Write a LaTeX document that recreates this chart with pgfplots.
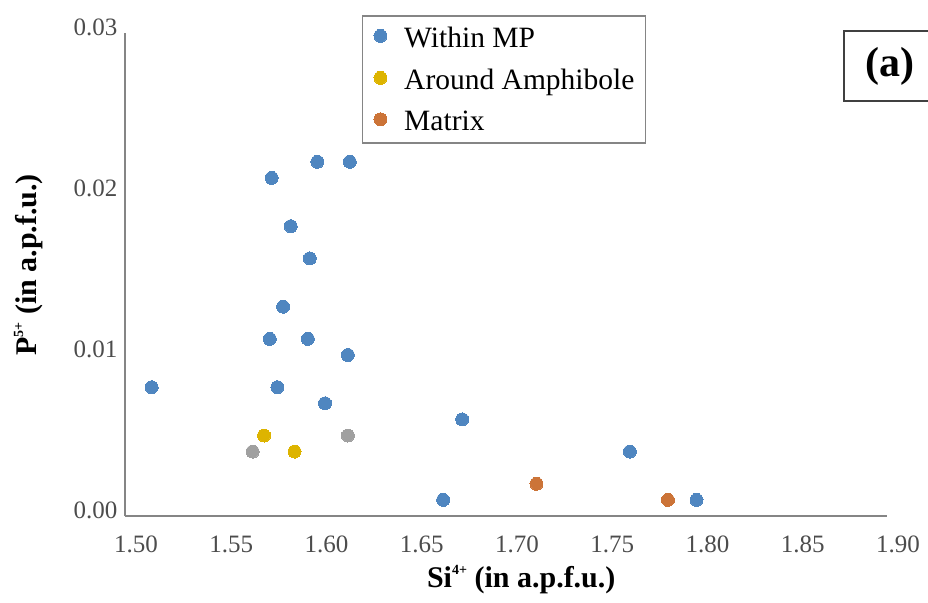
\documentclass[border=0pt]{standalone}
\usepackage{pgfplots}
\pgfplotsset{compat=1.18}
\usepackage{fontspec}
\setmainfont{Liberation Serif}
\definecolor{cblue}{HTML}{4F86C0}
\definecolor{cyellow}{HTML}{DDB400}
\definecolor{corange}{HTML}{CC7438}
\definecolor{cgray}{HTML}{A0A0A0}
\definecolor{axgray}{HTML}{858585}
\newcommand{\sups}[1]{\raisebox{13pt}{\fontsize{14}{14}\selectfont #1}}
\begin{document}
\begin{tikzpicture}
\path[use as bounding box] (-125pt,-86pt) rectangle (803pt,516pt);
\begin{axis}[
  at={(0pt,0pt)}, anchor=origin,
  scale only axis,
  width=762pt, height=483pt,
  xmin=1.50, xmax=1.90, ymin=0, ymax=0.03,
  axis lines*=left,
  axis line style={axgray, line width=2pt},
  xtick={1.50,1.55,...,1.90},
  ytick={0,0.01,0.02,0.03},
  major tick length=0pt,
  /pgf/number format/assume math mode=true,
  xticklabel style={/pgf/number format/.cd,fixed,fixed zerofill,precision=2,/tikz/.cd, font=\fontsize{25}{28}\selectfont, text=black!70, xshift=11pt, yshift=-16pt},
  yticklabel style={/pgf/number format/.cd,fixed,fixed zerofill,precision=2,/tikz/.cd, font=\fontsize{25}{28}\selectfont, text=black!70, yshift=6pt, xshift=-4pt},
  scaled y ticks=false,
  xlabel={\textbf{Si\sups{\textbf{4+}} (in a.p.f.u.)}},
  ylabel={\textbf{P\sups{\textbf{5+}} (in a.p.f.u.)}},
  xlabel style={font=\fontsize{30}{34}\selectfont, at={(axis description cs:0.52,-0.1325)}, anchor=center},
  ylabel style={font=\fontsize{30}{34}\selectfont, at={(axis description cs:-0.127,0.52)}, anchor=center, rotate=0},
  clip=false,
  legend style={at={(axis description cs:0.311,1.037)}, anchor=north west,
    draw=axgray, line width=1.5pt, font=\fontsize{29.5}{32}\selectfont,
    row sep=18pt, inner xsep=10pt, inner ysep=10pt,
    nodes={inner sep=1pt}},
  legend cell align=left,
  legend image code/.code={\path (0pt,2pt) (29pt,2pt); \draw[#1] plot coordinates {(7pt,2pt)};},
]
\addplot[only marks, mark=*, mark size=6.5pt, color=cblue, mark options={draw=cblue, fill=cblue, line width=0pt}] coordinates {
(1.514,0.008) (1.583,0.013) (1.576,0.011) (1.596,0.011) (1.617,0.010)
(1.580,0.008) (1.605,0.007) (1.677,0.006) (1.667,0.001) (1.765,0.004)
(1.800,0.001) (1.601,0.022) (1.618,0.022) (1.577,0.021) (1.587,0.018)
(1.597,0.016)
};
\addlegendentry{Within MP}
\addplot[only marks, mark=*, mark size=6.5pt, color=cyellow, mark options={draw=cyellow, fill=cyellow, line width=0pt}] coordinates {
(1.573,0.005) (1.589,0.004)
};
\addlegendentry{Around Amphibole}
\addplot[only marks, mark=*, mark size=6.5pt, color=corange, mark options={draw=corange, fill=corange, line width=0pt}] coordinates {
(1.716,0.002) (1.785,0.001)
};
\addlegendentry{Matrix}
\addplot[only marks, mark=*, mark size=6.5pt, color=cgray, mark options={draw=cgray, fill=cgray, line width=0pt}, forget plot] coordinates {
(1.567,0.004) (1.617,0.005)
};
\end{axis}
\node[draw=black!75, line width=2pt, anchor=north west, minimum width=100pt, minimum height=70pt, inner sep=0pt, align=center, font=\fontsize{42}{46}\bfseries]
  at (718pt,486pt) {\hspace*{-8pt}(a)};
\end{tikzpicture}
\end{document}
